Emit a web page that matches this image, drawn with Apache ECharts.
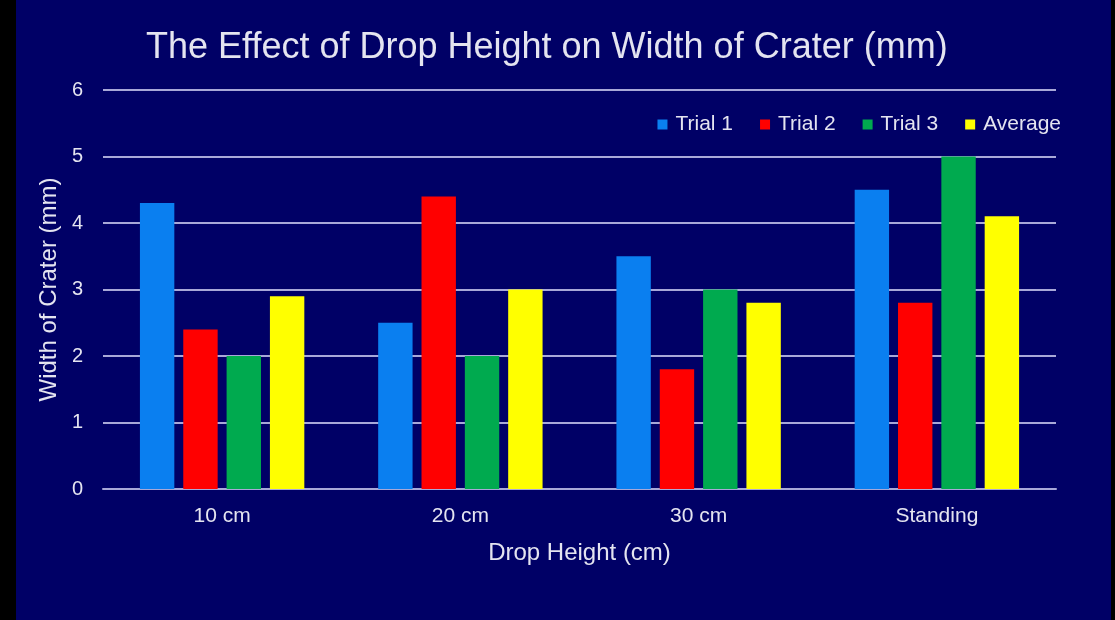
<!DOCTYPE html>
<html>
<head>
<meta charset="utf-8">
<script src="https://cdn.jsdelivr.net/npm/echarts@6/dist/echarts.min.js"></script>
<style>
  html, body { margin: 0; padding: 0; background: #000; }
  #chart { position: absolute; left: 16px; top: 0; width: 1095px; height: 620px; background: #000066; }
</style>
</head>
<body>
<div id="chart"></div>
<script>
// 数据
const categories = ['10 cm', '20 cm', '30 cm', 'Standing']
const trial1 = [4.3, 2.5, 3.5, 4.5]
const trial2 = [2.4, 4.4, 1.8, 2.8]
const trial3 = [2.0, 2.0, 3.0, 5.0]
const average = [2.9, 3.0, 2.8, 4.1]
const yTicks = [0, 1, 2, 3, 4, 5, 6]

const textColor = '#e4e4f0'
const lineColor = '#a8a8d8'

let chart = echarts.init(document.getElementById('chart'))

const makeBar = (name, data, color) => ({
  name: name,
  type: 'bar',
  data: data,
  barGap: '26%',
  barCategoryGap: '31%',
  itemStyle: { color: color }
})

let option = {
  backgroundColor: '#000066',
  animation: false,
  textStyle: { fontFamily: 'Liberation Sans, Arial, sans-serif' },
  title: {
    text: 'The Effect of Drop Height on Width of Crater (mm)',
    left: 125,
    top: 25,
    textStyle: { color: textColor, fontSize: 36, fontWeight: 'normal', fontFamily: 'Liberation Sans, Arial, sans-serif' }
  },
  legend: {
    right: 45,
    top: 109,
    itemWidth: 10,
    itemHeight: 10,
    itemGap: 27,
    icon: 'rect',
    textStyle: { color: textColor, fontSize: 21, padding: [0, 0, 0, 3] },
    data: ['Trial 1', 'Trial 2', 'Trial 3', 'Average']
  },
  grid: { left: 87, right: 55, top: 90, bottom: 131 },
  xAxis: {
    type: 'category',
    data: categories,
    name: 'Drop Height (cm)',
    nameLocation: 'middle',
    nameGap: 52,
    nameTextStyle: { color: textColor, fontSize: 24 },
    axisLine: { lineStyle: { color: lineColor, width: 2 } },
    axisTick: { show: false },
    axisLabel: { color: textColor, fontSize: 21, margin: 17 }
  },
  yAxis: {
    type: 'value',
    min: yTicks[0],
    max: yTicks[yTicks.length - 1],
    interval: 1,
    name: 'Width of Crater (mm)',
    nameLocation: 'middle',
    nameGap: 38,
    nameTextStyle: { color: textColor, fontSize: 24 },
    axisLine: { show: false },
    axisTick: { show: false },
    axisLabel: { color: textColor, fontSize: 20, margin: 20 },
    splitLine: { lineStyle: { color: lineColor, width: 2 } }
  },
  series: [
    makeBar('Trial 1', trial1, '#0a7ff0'),
    makeBar('Trial 2', trial2, '#ff0000'),
    makeBar('Trial 3', trial3, '#00aa4f'),
    makeBar('Average', average, '#ffff00')
  ]
}
chart.setOption(option)
</script>
</body>
</html>
